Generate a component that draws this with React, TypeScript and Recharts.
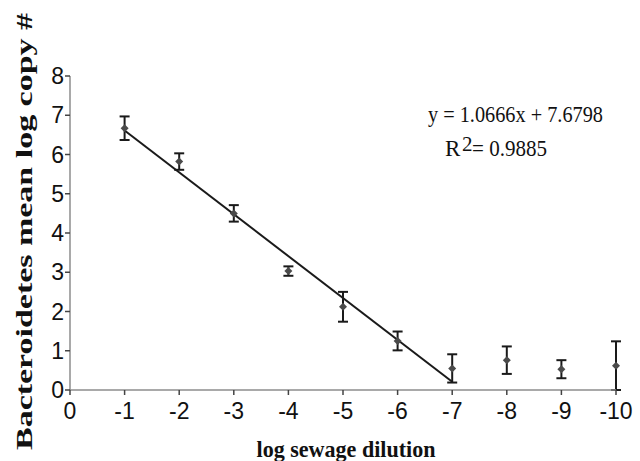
import { ComposedChart, Customized, ErrorBar, Line, Scatter, XAxis, YAxis } from 'recharts';

// log sewage dilution
const dilution = [-1, -2, -3, -4, -5, -6, -7, -8, -9, -10];
// mean log copy number of Bacteroidetes
const meanLogCopy = [6.67, 5.82, 4.5, 3.03, 2.12, 1.25, 0.55, 0.76, 0.53, 0.62];
const stdErr = [0.3, 0.21, 0.21, 0.12, 0.38, 0.24, 0.36, 0.35, 0.23, 0.62];

// regression line endpoints (y = 1.0666x + 7.6798 over -1..-7)
const trendX = [-1, -7];
const trendY = [6.61, 0.21];

const xTicks = [0, -1, -2, -3, -4, -5, -6, -7, -8, -9, -10];
const yTicks = [0, 1, 2, 3, 4, 5, 6, 7, 8];

const points = dilution.map((x, i) => ({ x, y: meanLogCopy[i], err: stdErr[i] }));
const trend = trendX.map((x, i) => ({ x, y: trendY[i] }));

const serif = '"Liberation Serif", "Times New Roman", serif';
const sans = '"Liberation Sans", Arial, sans-serif';

const Diamond = (props: any) => {
  const { cx, cy } = props;
  if (cx == null || cy == null) return null;
  return <path d={`M${cx},${cy - 4}L${cx + 4},${cy}L${cx},${cy + 4}L${cx - 4},${cy}Z`} fill="#4a4a4a" />;
};

const Annotations = () => (
  <g fill="#111" fontFamily={serif}>
    <text x={428} y={122} fontSize={23} textLength={175} lengthAdjust="spacingAndGlyphs">
      y = 1.0666x + 7.6798
    </text>
    <text x={445} y={156} fontSize={23}>R</text>
    <text x={462} y={151} fontSize={21}>2</text>
    <text x={472} y={156} fontSize={23} textLength={75} lengthAdjust="spacingAndGlyphs">
      = 0.9885
    </text>
    <text x={346} y={457} fontSize={24} fontWeight="bold" textAnchor="middle" textLength={179} lengthAdjust="spacingAndGlyphs">
      log sewage dilution
    </text>
    <text
      x={32}
      y={450}
      fontSize={24}
      fontWeight="bold"
      transform="rotate(-90 32 450)"
      textLength={437}
      lengthAdjust="spacingAndGlyphs"
    >
      Bacteroidetes mean log copy #
    </text>
  </g>
);

export default function App() {
  return (
    <div style={{ position: 'absolute', left: 0, top: 0, width: 640, height: 461, background: '#fff' }}>
      <ComposedChart width={640} height={461} margin={{ top: 76, right: 24, bottom: 0, left: 0 }}>
        <XAxis
          type="number"
          dataKey="x"
          domain={[-10, 0]}
          ticks={xTicks}
          reversed
          height={71}
          stroke="#8c8c8c"
          strokeWidth={1.5}
          tickSize={5}
          tickMargin={8}
          tickLine={{ stroke: '#444' }}
          tick={{ fill: '#111', fontSize: 23, fontFamily: sans }}
        />
        <YAxis
          type="number"
          dataKey="y"
          domain={[0, 8]}
          ticks={yTicks}
          width={70}
          stroke="#8c8c8c"
          strokeWidth={1.5}
          tickSize={5}
          tickMargin={1}
          tickLine={{ stroke: '#444' }}
          tick={{ fill: '#111', fontSize: 23, fontFamily: sans }}
        />
        <Line
          data={trend}
          dataKey="y"
          type="linear"
          stroke="#1a1a1a"
          strokeWidth={2}
          dot={false}
          activeDot={false}
          isAnimationActive={false}
        />
        <Scatter data={points} dataKey="y" shape={<Diamond />} isAnimationActive={false}>
          <ErrorBar dataKey="err" direction="y" width={5} stroke="#1a1a1a" strokeWidth={2} isAnimationActive={false} />
        </Scatter>
        <Customized component={<Annotations />} />
      </ComposedChart>
    </div>
  );
}
